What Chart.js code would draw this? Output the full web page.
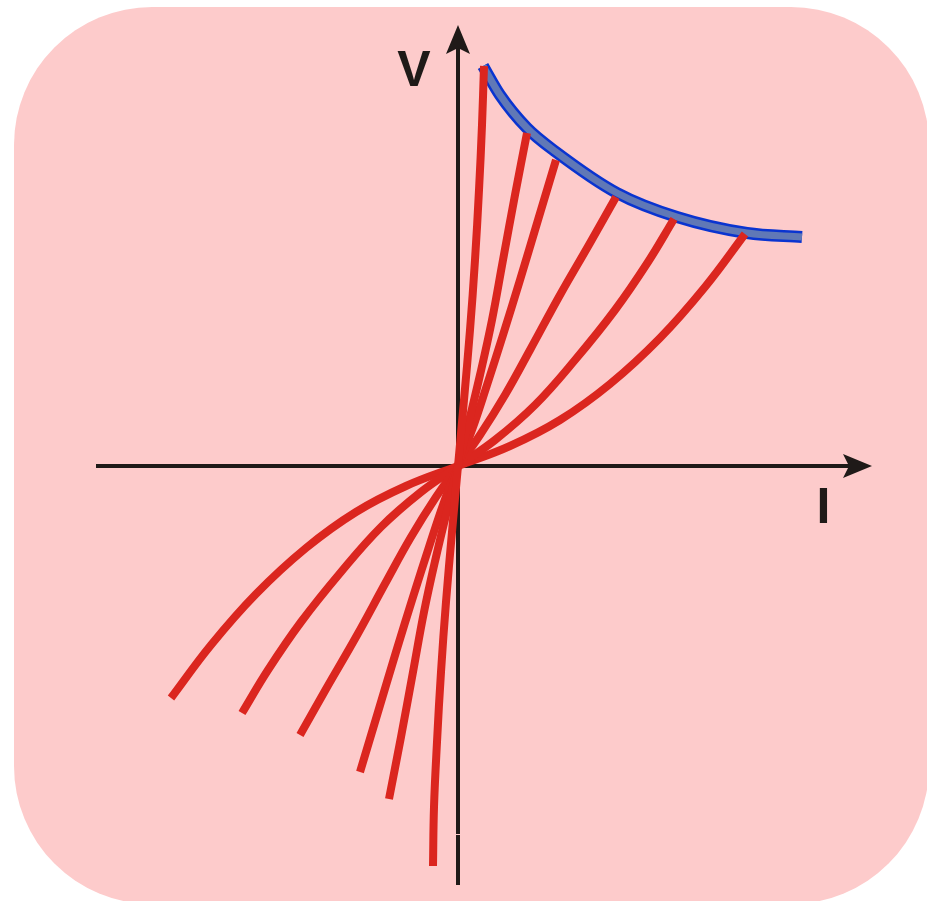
<!DOCTYPE html>
<html>
<head>
<meta charset="utf-8">
<script src="https://cdn.jsdelivr.net/npm/chart.js@4/dist/chart.umd.min.js"></script>
<style>
  html, body { margin: 0; padding: 0; background: #ffffff; }
  #wrap { width: 927px; height: 901px; }
</style>
</head>
<body>
<div id="wrap"><canvas id="ivChart" width="927" height="901"></canvas></div>
<script>
// I-V curves (I right, V up; 1 unit ~ 100 px)
const curve1 = [[-0.25,-4.00],[-0.24,-3.41],[-0.21,-2.76],[-0.17,-2.06],[-0.12,-1.36],[-0.06,-0.66],[0,0],[0.06,0.66],[0.12,1.36],[0.17,2.06],[0.21,2.76],[0.24,3.41],[0.26,4.00]];
const curve2 = [[-0.69,-3.33],[-0.57,-2.71],[-0.45,-2.06],[-0.34,-1.46],[-0.22,-0.91],[-0.10,-0.41],[0,0],[0.10,0.41],[0.22,0.91],[0.34,1.46],[0.45,2.06],[0.57,2.71],[0.69,3.33]];
const curve3 = [[-0.98,-3.06],[-0.80,-2.46],[-0.62,-1.86],[-0.45,-1.31],[-0.29,-0.81],[-0.14,-0.36],[0,0],[0.14,0.36],[0.29,0.81],[0.45,1.31],[0.62,1.86],[0.80,2.46],[0.98,3.06]];
const curve4 = [[-1.58,-2.69],[-1.32,-2.23],[-1.02,-1.71],[-0.72,-1.16],[-0.47,-0.71],[-0.22,-0.31],[0,0],[0.22,0.31],[0.47,0.71],[0.72,1.16],[1.02,1.71],[1.32,2.23],[1.58,2.69]];
const curve5 = [[-2.16,-2.47],[-1.90,-2.04],[-1.57,-1.56],[-1.17,-1.06],[-0.77,-0.61],[-0.37,-0.26],[0,0],[0.37,0.26],[0.77,0.61],[1.17,1.06],[1.57,1.56],[1.90,2.04],[2.16,2.47]];
const curve6 = [[-2.87,-2.32],[-2.47,-1.79],[-2.02,-1.28],[-1.52,-0.82],[-1.02,-0.46],[-0.52,-0.20],[0,0],[0.52,0.20],[1.02,0.46],[1.52,0.82],[2.02,1.28],[2.47,1.79],[2.87,2.32]];

// power limit band across the curve ends
const limitBand = [[0.25,4.00],[0.42,3.71],[0.69,3.38],[0.98,3.14],[1.59,2.73],[2.19,2.49],[2.89,2.33],[3.44,2.29]];

// axis extents and labels
const axisI = [-3.62, 4.14];
const axisV = [-4.19, 4.41];
const labelV = { text: "V", at: [-0.44, 3.94] };
const labelI = { text: "I", at: [3.655, -0.43] };

const RED = "#db261f";
const INK = "#1f1a18";

function toPts(arr) {
    return arr.map(p => ({ x: p[0], y: p[1] }));
}

// pink rounded card behind everything
const cardPlugin = {
    id: "card",
    beforeDraw(chart) {
        const ctx = chart.ctx;
        ctx.save();
        ctx.fillStyle = "#fdcbcb";
        ctx.beginPath();
        ctx.roundRect(14, 7, 915, 897, 138);
        ctx.fill();
        ctx.restore();
    }
};

// axes with arrow heads, drawn through the scales
const axesPlugin = {
    id: "axes",
    beforeDatasetsDraw(chart) {
        const ctx = chart.ctx;
        const sx = chart.scales.x, sy = chart.scales.y;
        const x0 = sx.getPixelForValue(0), y0 = sy.getPixelForValue(0);
        const xl = sx.getPixelForValue(axisI[0]), xr = sx.getPixelForValue(axisI[1]);
        const yb = sy.getPixelForValue(axisV[0]), yt = sy.getPixelForValue(axisV[1]);
        ctx.save();
        ctx.strokeStyle = INK;
        ctx.fillStyle = INK;
        ctx.lineWidth = 4;
        ctx.beginPath();
        ctx.moveTo(xl, y0); ctx.lineTo(xr - 20, y0);
        ctx.moveTo(x0, yb); ctx.lineTo(x0, yt + 20);
        ctx.stroke();
        // tiny break in the V axis near the bottom
        ctx.strokeStyle = "#fdcbcb";
        ctx.lineWidth = 1;
        ctx.beginPath();
        ctx.moveTo(x0 - 3, yb - 50.5); ctx.lineTo(x0 + 3, yb - 50.5);
        ctx.stroke();
        // arrow heads
        ctx.beginPath();
        ctx.moveTo(xr, y0);
        ctx.lineTo(xr - 29, y0 - 12);
        ctx.lineTo(xr - 23, y0);
        ctx.lineTo(xr - 29, y0 + 12);
        ctx.closePath();
        ctx.fill();
        ctx.beginPath();
        ctx.moveTo(x0, yt);
        ctx.lineTo(x0 - 12, yt + 29);
        ctx.lineTo(x0, yt + 23);
        ctx.lineTo(x0 + 12, yt + 29);
        ctx.closePath();
        ctx.fill();
        // labels
        ctx.font = "bold 50px 'Liberation Sans', Arial, sans-serif";
        ctx.textAlign = "center";
        ctx.textBaseline = "middle";
        [labelV, labelI].forEach(l => {
            ctx.fillText(l.text, sx.getPixelForValue(l.at[0]), sy.getPixelForValue(l.at[1]));
        });
        ctx.restore();
    }
};

const curves = [curve1, curve2, curve3, curve4, curve5, curve6];
const datasets = curves.map((c, i) => ({
    label: "curve " + (i + 1),
    data: toPts(c),
    borderColor: RED,
    borderWidth: 8,
    borderCapStyle: "butt",
    tension: 0.4,
    pointRadius: 0,
    showLine: true,
    fill: false,
    order: 0
}));
datasets.push({
    label: "band inner",
    data: toPts(limitBand),
    borderColor: "#6078b6",
    borderWidth: 7,
    borderCapStyle: "butt",
    cubicInterpolationMode: "monotone",
    pointRadius: 0,
    showLine: true,
    fill: false,
    order: 1
});
datasets.push({
    label: "band edge",
    data: toPts(limitBand),
    borderColor: "#0a34d0",
    borderWidth: 12,
    borderCapStyle: "butt",
    cubicInterpolationMode: "monotone",
    pointRadius: 0,
    showLine: true,
    fill: false,
    order: 2
});

new Chart(document.getElementById("ivChart").getContext("2d"), {
    type: "scatter",
    data: { datasets },
    options: {
        responsive: false,
        animation: false,
        devicePixelRatio: 1,
        layout: { padding: 0 },
        plugins: { legend: { display: false }, tooltip: { enabled: false } },
        scales: {
            x: { type: "linear", display: false, min: -4.58, max: 4.69 },
            y: { type: "linear", display: false, min: -4.35, max: 4.66 }
        }
    },
    plugins: [cardPlugin, axesPlugin]
});
</script>
</body>
</html>
